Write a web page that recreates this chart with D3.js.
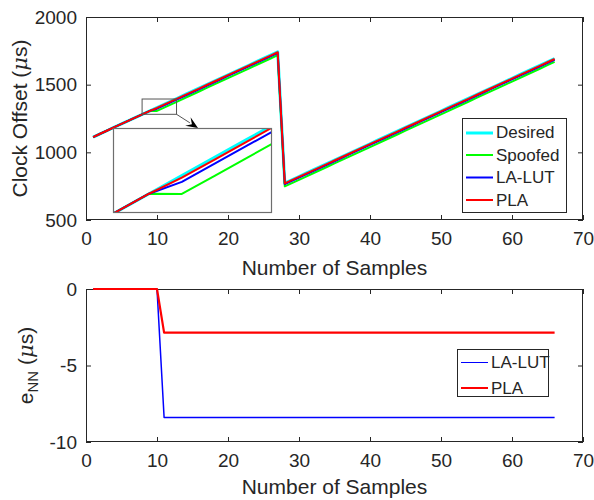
<!DOCTYPE html>
<html>
<head>
<meta charset="utf-8">
<script src="https://cdn.jsdelivr.net/npm/d3@7"></script>
<style>
  body { margin: 0; background: #fff; }
  svg { display: block; }
  text { font-family: "Liberation Sans", Arial, sans-serif; fill: #262626; }
</style>
</head>
<body>
<svg id="chart" width="594" height="500"></svg>
<script>
// sample numbers 1..66
const samples = d3.range(1, 67);

const desired = [
  1113.0, 1137.2, 1161.4, 1185.6, 1209.8, 1234.0, 1258.2, 1282.4, 1306.6, 1330.8,
  1355.0, 1379.2, 1403.4, 1427.6, 1451.8, 1476.0, 1500.2, 1524.4, 1548.6, 1572.8,
  1597.0, 1621.2, 1645.4, 1669.6, 1693.8, 1718.0, 1742.2,
  773.0, 797.2, 821.4, 845.6, 869.8, 894.0, 918.2, 942.4, 966.6, 990.8,
  1015.0, 1039.2, 1063.4, 1087.6, 1111.8, 1136.0, 1160.2, 1184.4, 1208.6, 1232.8,
  1257.0, 1281.2, 1305.4, 1329.6, 1353.8, 1378.0, 1402.2, 1426.4, 1450.6, 1474.8,
  1499.0, 1523.2, 1547.4, 1571.6, 1595.8, 1620.0, 1644.2, 1668.4, 1692.6
];
const spoofed = [
  1113.0, 1137.2, 1161.4, 1185.6, 1209.8, 1234.0, 1258.2, 1282.4, 1306.6, 1306.3,
  1330.5, 1354.7, 1378.9, 1403.1, 1427.3, 1451.5, 1475.7, 1499.9, 1524.1, 1548.3,
  1572.5, 1596.7, 1620.9, 1645.1, 1669.3, 1693.5, 1717.7,
  748.5, 772.7, 796.9, 821.1, 845.3, 869.5, 893.7, 917.9, 942.1, 966.3,
  990.5, 1014.7, 1038.9, 1063.1, 1087.3, 1111.5, 1135.7, 1159.9, 1184.1, 1208.3,
  1232.5, 1256.7, 1280.9, 1305.1, 1329.3, 1353.5, 1377.7, 1401.9, 1426.1, 1450.3,
  1474.5, 1498.7, 1522.9, 1547.1, 1571.3, 1595.5, 1619.7, 1643.9, 1668.1
];
const laLut = [
  1113.0, 1137.2, 1161.4, 1185.6, 1209.8, 1234.0, 1258.2, 1282.4, 1306.6, 1322.4,
  1346.6, 1370.8, 1395.0, 1419.2, 1443.4, 1467.6, 1491.8, 1516.0, 1540.2, 1564.4,
  1588.6, 1612.8, 1637.0, 1661.2, 1685.4, 1709.6, 1733.8,
  764.6, 788.8, 813.0, 837.2, 861.4, 885.6, 909.8, 934.0, 958.2, 982.4,
  1006.6, 1030.8, 1055.0, 1079.2, 1103.4, 1127.6, 1151.8, 1176.0, 1200.2, 1224.4,
  1248.6, 1272.8, 1297.0, 1321.2, 1345.4, 1369.6, 1393.8, 1418.0, 1442.2, 1466.4,
  1490.6, 1514.8, 1539.0, 1563.2, 1587.4, 1611.6, 1635.8, 1660.0, 1684.2
];
const pla = [
  1113.0, 1137.2, 1161.4, 1185.6, 1209.8, 1234.0, 1258.2, 1282.4, 1306.6, 1327.9,
  1352.1, 1376.3, 1400.5, 1424.7, 1448.9, 1473.1, 1497.3, 1521.5, 1545.7, 1569.9,
  1594.1, 1618.3, 1642.5, 1666.7, 1690.9, 1715.1, 1739.3,
  770.1, 794.3, 818.5, 842.7, 866.9, 891.1, 915.3, 939.5, 963.7, 987.9,
  1012.1, 1036.3, 1060.5, 1084.7, 1108.9, 1133.1, 1157.3, 1181.5, 1205.7, 1229.9,
  1254.1, 1278.3, 1302.5, 1326.7, 1350.9, 1375.1, 1399.3, 1423.5, 1447.7, 1471.9,
  1496.1, 1520.3, 1544.5, 1568.7, 1592.9, 1617.1, 1641.3, 1665.5, 1689.7
];

// e_NN error series (bottom panel)
const errLaLut = [
  0, 0, 0, 0, 0, 0, 0, 0, 0, 0,
  -8.4, -8.4, -8.4, -8.4, -8.4, -8.4, -8.4, -8.4, -8.4, -8.4,
  -8.4, -8.4, -8.4, -8.4, -8.4, -8.4, -8.4, -8.4, -8.4, -8.4,
  -8.4, -8.4, -8.4, -8.4, -8.4, -8.4, -8.4, -8.4, -8.4, -8.4,
  -8.4, -8.4, -8.4, -8.4, -8.4, -8.4, -8.4, -8.4, -8.4, -8.4,
  -8.4, -8.4, -8.4, -8.4, -8.4, -8.4, -8.4, -8.4, -8.4, -8.4,
  -8.4, -8.4, -8.4, -8.4, -8.4, -8.4
];
const errPla = [
  0, 0, 0, 0, 0, 0, 0, 0, 0, 0,
  -2.85, -2.85, -2.85, -2.85, -2.85, -2.85, -2.85, -2.85, -2.85, -2.85,
  -2.85, -2.85, -2.85, -2.85, -2.85, -2.85, -2.85, -2.85, -2.85, -2.85,
  -2.85, -2.85, -2.85, -2.85, -2.85, -2.85, -2.85, -2.85, -2.85, -2.85,
  -2.85, -2.85, -2.85, -2.85, -2.85, -2.85, -2.85, -2.85, -2.85, -2.85,
  -2.85, -2.85, -2.85, -2.85, -2.85, -2.85, -2.85, -2.85, -2.85, -2.85,
  -2.85, -2.85, -2.85, -2.85, -2.85, -2.85
];

const xTicks = [0, 10, 20, 30, 40, 50, 60, 70];
const yTopTicks = [500, 1000, 1500, 2000];
const yBotTicks = [-10, -5, 0];

const topSeries = [
  { name: "Desired", values: desired, color: "#00ffff", width: 3 },
  { name: "Spoofed", values: spoofed, color: "#00ff00", width: 2 },
  { name: "LA-LUT", values: laLut, color: "#0000ff", width: 2 },
  { name: "PLA", values: pla, color: "#ff0000", width: 2 }
];
const botSeries = [
  { name: "LA-LUT", values: errLaLut, color: "#0000ff", width: 1.5, legendWidth: 1 },
  { name: "PLA", values: errPla, color: "#ff0000", width: 2.2, legendWidth: 2 }
];

// zoomed window shown in the inset
const insetXDomain = [7.9, 12.75];
const insetYDomain = [1281, 1394];

const svg = d3.select("#chart");
const axisColor = "#262626";

const x = d3.scaleLinear().domain([0, 70]).range([86, 583]);
const yTop = d3.scaleLinear().domain([500, 2000]).range([220, 17]);
const yBot = d3.scaleLinear().domain([-10, 0]).range([442, 289]);

function styleAxis(g) {
  g.attr("font-size", 19).attr("font-family", null);
  g.select(".domain").remove();
  g.selectAll(".tick line").attr("stroke", axisColor);
  g.selectAll(".tick text").attr("fill", axisColor);
}

function frame(id, yScale, yTicks) {
  const [bottom, top] = yScale.range();
  const [l, r] = x.range();
  const g = svg.append("g");

  g.append("clipPath").attr("id", id)
    .append("rect").attr("x", l - 3).attr("y", top - 3).attr("width", r - l + 6).attr("height", bottom - top + 6);

  g.append("g").attr("transform", "translate(0," + bottom + ")")
    .call(d3.axisBottom(x).tickValues(xTicks).tickSize(-5).tickSizeOuter(0).tickPadding(12).tickFormat(d => String(d)))
    .call(styleAxis);
  g.append("g").attr("transform", "translate(0," + top + ")")
    .call(d3.axisTop(x).tickValues(xTicks).tickSize(-5).tickSizeOuter(0).tickFormat(""))
    .call(styleAxis);
  g.append("g").attr("transform", "translate(" + l + ",0)")
    .call(d3.axisLeft(yScale).tickValues(yTicks).tickSize(-5).tickSizeOuter(0).tickPadding(9).tickFormat(d => String(d)))
    .call(styleAxis);
  g.append("g").attr("transform", "translate(" + r + ",0)")
    .call(d3.axisRight(yScale).tickValues(yTicks).tickSize(-5).tickSizeOuter(0).tickFormat(""))
    .call(styleAxis);

  g.append("rect")
    .attr("x", l + 0.5).attr("y", top + 0.5)
    .attr("width", r - l - 1).attr("height", bottom - top - 1)
    .attr("fill", "none").attr("stroke", axisColor).attr("stroke-width", 1);

  const plot = g.append("g").attr("clip-path", "url(#" + id + ")");
  return { g, plot };
}

function drawLines(plot, series, xs, ys) {
  const line = d3.line().x((d, i) => xs(samples[i])).y(d => ys(d));
  plot.selectAll("path.series")
    .data(series)
    .enter().append("path")
    .attr("class", "series")
    .attr("d", d => line(d.values))
    .attr("fill", "none")
    .attr("stroke", d => d.color)
    .attr("stroke-width", d => d.width)
    .attr("stroke-linejoin", "round");
}

function legend(series, x0, y0, w, h, firstY, rowH, lineKey) {
  const g = svg.append("g");
  g.append("rect")
    .attr("x", x0 + 0.5).attr("y", y0 + 0.5).attr("width", w).attr("height", h)
    .attr("fill", "#fff").attr("stroke", axisColor).attr("stroke-width", 1);
  const rows = g.selectAll("g.row")
    .data(series)
    .enter().append("g")
    .attr("transform", (d, i) => "translate(" + x0 + "," + (y0 + firstY + i * rowH) + ")");
  rows.append("line")
    .attr("x1", 4).attr("x2", 31)
    .attr("y1", d => d[lineKey] % 2 ? 0.5 : 0)
    .attr("y2", d => d[lineKey] % 2 ? 0.5 : 0)
    .attr("stroke", d => d.color)
    .attr("stroke-width", d => d[lineKey]);
  rows.append("text")
    .attr("x", 34).attr("dy", "0.35em")
    .attr("font-size", 17)
    .text(d => d.name);
}

// ---- top panel
const topPanel = frame("clipTop", yTop, yTopTicks);
drawLines(topPanel.plot, topSeries, x, yTop);

// zoom rectangle on the main plot
const zr = {
  x0: x(insetXDomain[0]), x1: x(insetXDomain[1]),
  y0: yTop(insetYDomain[1]), y1: yTop(insetYDomain[0])
};
svg.append("rect")
  .attr("x", zr.x0).attr("y", zr.y0)
  .attr("width", zr.x1 - zr.x0).attr("height", zr.y1 - zr.y0)
  .attr("fill", "none").attr("stroke", "#555").attr("stroke-width", 1);

// inset axes
const inset = { l: 113, t: 128, r: 272, b: 213 };
const xi = d3.scaleLinear().domain(insetXDomain).range([inset.l, inset.r]);
const yi = d3.scaleLinear().domain(insetYDomain).range([inset.b, inset.t]);
svg.append("clipPath").attr("id", "clipInset")
  .append("rect").attr("x", inset.l).attr("y", inset.t)
  .attr("width", inset.r - inset.l).attr("height", inset.b - inset.t);
svg.append("rect")
  .attr("x", inset.l).attr("y", inset.t)
  .attr("width", inset.r - inset.l).attr("height", inset.b - inset.t)
  .attr("fill", "#fff");
const insetPlot = svg.append("g").attr("clip-path", "url(#clipInset)");
drawLines(insetPlot, topSeries, xi, yi);
svg.append("rect")
  .attr("x", inset.l + 0.5).attr("y", inset.t + 0.5)
  .attr("width", inset.r - inset.l - 1).attr("height", inset.b - inset.t - 1)
  .attr("fill", "none").attr("stroke", "#6e6e6e").attr("stroke-width", 1.2);

// arrow from zoom rectangle to inset
const ax1 = zr.x1, ay1 = zr.y1, ax2 = 198, ay2 = inset.t;
const ang = Math.atan2(ay2 - ay1, ax2 - ax1);
const hl = 12, hw = 5;
svg.append("line")
  .attr("x1", ax1).attr("y1", ay1)
  .attr("x2", ax2 - hl * 0.8 * Math.cos(ang)).attr("y2", ay2 - hl * 0.8 * Math.sin(ang))
  .attr("stroke", "#555").attr("stroke-width", 1);
svg.append("path")
  .attr("d", "M" + ax2 + "," + ay2 +
    "L" + (ax2 - hl * Math.cos(ang) + hw * Math.sin(ang)) + "," + (ay2 - hl * Math.sin(ang) - hw * Math.cos(ang)) +
    "L" + (ax2 - hl * 0.6 * Math.cos(ang)) + "," + (ay2 - hl * 0.6 * Math.sin(ang)) +
    "L" + (ax2 - hl * Math.cos(ang) - hw * Math.sin(ang)) + "," + (ay2 - hl * Math.sin(ang) + hw * Math.cos(ang)) + "Z")
  .attr("fill", "#000");

legend(topSeries, 462, 118, 104, 94, 14.5, 22.5, "width");

svg.append("text")
  .attr("x", (x.range()[0] + x.range()[1]) / 2).attr("y", 275)
  .attr("text-anchor", "middle").attr("font-size", 21)
  .text("Number of Samples");

const yl1 = svg.append("text")
  .attr("transform", "translate(27," + (yTop.range()[0] + yTop.range()[1]) / 2 + ") rotate(-90)")
  .attr("text-anchor", "middle").attr("font-size", 21);
yl1.append("tspan").text("Clock Offset (");
yl1.append("tspan").attr("font-style", "italic").attr("font-family", "DejaVu Serif, serif").text("μ");
yl1.append("tspan").text("s)");

// ---- bottom panel
const botPanel = frame("clipBot", yBot, yBotTicks);
drawLines(botPanel.plot, botSeries, x, yBot);
legend(botSeries, 457, 349, 91, 47, 13, 26, "legendWidth");

svg.append("text")
  .attr("x", (x.range()[0] + x.range()[1]) / 2).attr("y", 494)
  .attr("text-anchor", "middle").attr("font-size", 21)
  .text("Number of Samples");

const yl2 = svg.append("text")
  .attr("transform", "translate(33," + (yBot.range()[0] + yBot.range()[1]) / 2 + ") rotate(-90)")
  .attr("text-anchor", "middle").attr("font-size", 21);
yl2.append("tspan").text("e");
yl2.append("tspan").attr("font-size", 15).attr("dy", 5).text("NN");
yl2.append("tspan").attr("dy", -5).text(" (");
yl2.append("tspan").attr("font-style", "italic").attr("font-family", "DejaVu Serif, serif").text("μ");
yl2.append("tspan").text("s)");
</script>
</body>
</html>
